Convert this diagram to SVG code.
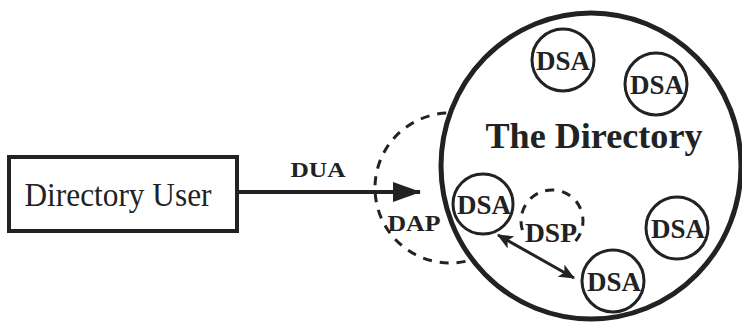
<svg xmlns="http://www.w3.org/2000/svg" width="742" height="325" viewBox="0 0 742 325">
  <style>
    .ink { stroke: #222; fill: none; }
    .dash { stroke: #222; fill: none; stroke-width: 3; stroke-dasharray: 9 8; }
    .lbl { font-family: "Liberation Serif", "Times New Roman", serif; font-weight: bold; fill: #222; }
    .dsa circle { stroke: #222; stroke-width: 3; fill: #fff; }
    .dsa text { font-family: "Liberation Serif", "Times New Roman", serif; font-weight: bold; font-size: 28px; fill: #222; text-anchor: middle; }
  </style>
  <defs>
    <marker id="headBig" viewBox="0 0 28 20" refX="27" refY="10" markerUnits="userSpaceOnUse" markerWidth="28" markerHeight="20" orient="auto">
      <path d="M0,0 L28,10 L0,20 Z" fill="#222"/>
    </marker>
    <marker id="headSmall" viewBox="0 0 16 14" refX="15" refY="7" markerUnits="userSpaceOnUse" markerWidth="16" markerHeight="14" orient="auto-start-reverse">
      <path d="M0,0 L16,7 L0,14 L4,7 Z" fill="#222"/>
    </marker>
  </defs>

  <rect width="742" height="325" fill="#fff"/>

  <!-- DAP access boundary (dashed), partly hidden behind the directory -->
  <g id="dap">
    <circle class="dash" cx="450" cy="188" r="75"/>
  </g>

  <!-- The Directory -->
  <g id="directory">
    <ellipse cx="591" cy="166" rx="150" ry="153" fill="#fff" stroke="#222" stroke-width="5"/>
    <text class="lbl" x="594" y="148" font-size="35" text-anchor="middle" textLength="217" lengthAdjust="spacingAndGlyphs">The Directory</text>
  </g>

  <!-- Directory User -->
  <g id="user">
    <rect x="9" y="157" width="228" height="74" fill="#fff" stroke="#222" stroke-width="4"/>
    <text x="118" y="206" font-family="Liberation Serif, Times New Roman, serif" font-size="34" fill="#222" text-anchor="middle" textLength="187" lengthAdjust="spacingAndGlyphs">Directory User</text>
  </g>

  <!-- DSP boundary (dashed arc) -->
  <g id="dsp">
    <path class="dash" d="M522.4,230.1 A31,31 0 1 1 571.9,244.7" stroke-dasharray="8 9"/>
  </g>

  <!-- DSAs -->
  <g id="dsa1" class="dsa"><circle cx="563" cy="60" r="31"/><text x="563" y="70" textLength="54" lengthAdjust="spacingAndGlyphs">DSA</text></g>
  <g id="dsa2" class="dsa"><circle cx="656" cy="84" r="31"/><text x="657" y="94" textLength="54" lengthAdjust="spacingAndGlyphs">DSA</text></g>
  <g id="dsa3" class="dsa"><circle cx="483" cy="204" r="30"/><text x="484" y="214" textLength="54" lengthAdjust="spacingAndGlyphs">DSA</text></g>
  <g id="dsa4" class="dsa"><circle cx="677" cy="228" r="31"/><text x="678" y="238" textLength="54" lengthAdjust="spacingAndGlyphs">DSA</text></g>
  <g id="dsa5" class="dsa"><circle cx="613" cy="281" r="31"/><text x="614" y="291" textLength="54" lengthAdjust="spacingAndGlyphs">DSA</text></g>

  <!-- Connectors -->
  <g id="connectors">
    <line class="ink" x1="239" y1="192" x2="420" y2="192" stroke-width="4" marker-end="url(#headBig)"/>
    <line class="ink" x1="498" y1="235" x2="574" y2="278" stroke-width="3" marker-start="url(#headSmall)" marker-end="url(#headSmall)"/>
  </g>

  <!-- Labels -->
  <g id="labels">
    <text class="lbl" x="318" y="177" font-size="22" text-anchor="middle" textLength="55" lengthAdjust="spacingAndGlyphs">DUA</text>
    <text class="lbl" x="414" y="231" font-size="24" text-anchor="middle" textLength="53" lengthAdjust="spacingAndGlyphs">DAP</text>
    <text class="lbl" x="551" y="242" font-size="28" text-anchor="middle" textLength="52" lengthAdjust="spacingAndGlyphs">DSP</text>
  </g>
</svg>
